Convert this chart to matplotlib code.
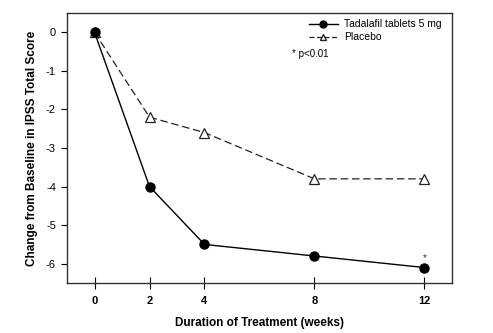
import matplotlib.pyplot as plt
from matplotlib.lines import Line2D

# Data
weeks = [0, 2, 4, 8, 12]
tadalafil = [0.0, -4.0, -5.5, -5.8, -6.1]
placebo = [0.0, -2.2, -2.6, -3.8, -3.8]
x_ticks = [0, 2, 4, 8, 12]
y_ticks = [0, -1, -2, -3, -4, -5, -6]

plt.rcParams["font.family"] = ["Liberation Sans", "DejaVu Sans"]

fig = plt.figure(figsize=(4.93, 3.33), dpi=100)
ax = fig.add_axes([67 / 493, 1 - 283 / 333, (452 - 67) / 493, (283 - 13) / 333])

ax.plot(weeks, placebo, color="#222222", linestyle=(0, (6, 3)), linewidth=0.9,
        marker="^", markersize=6.5, markerfacecolor="white",
        markeredgecolor="#222222", markeredgewidth=0.9, zorder=2)
ax.plot(weeks, tadalafil, color="black", linewidth=1.0,
        marker="o", markersize=6.5, markerfacecolor="black", zorder=3)

ax.text(weeks[-1], tadalafil[-1] + 0.12, "*", ha="center", va="bottom",
        fontsize=7, color="#333333")

ax.set_xlim(-1, 13)
ax.set_ylim(-6.5, 0.5)
ax.set_xticks(x_ticks)
ax.set_yticks(y_ticks)
ax.set_xticklabels([str(t) for t in x_ticks], fontweight="bold", fontsize=8)
ax.set_yticklabels([str(t) for t in y_ticks], fontsize=8)
ax.tick_params(axis="x", direction="inout", length=8, width=0.8, pad=5)
ax.tick_params(axis="y", direction="out", length=4, width=0.8, pad=4)
for side in ax.spines.values():
    side.set_linewidth(1.0)
    side.set_color("#333333")

ax.set_xlabel("Duration of Treatment (weeks)", fontweight="bold", fontsize=8.5, labelpad=8)
ax.set_ylabel("Change from Baseline in IPSS Total Score", fontweight="bold", fontsize=8.5,
              labelpad=6)

handles = [
    Line2D([], [], color="black", linewidth=1.0, marker="o", markersize=5,
           markerfacecolor="black"),
    Line2D([], [], color="#222222", linewidth=0.9, linestyle=(0, (4, 2)), marker="^",
           markersize=5, markerfacecolor="white", markeredgecolor="#222222"),
]
leg = ax.legend(handles, ["Tadalafil tablets 5 mg", "Placebo"], loc="upper right",
                bbox_to_anchor=(0.99, 1.0), frameon=False, fontsize=7.5,
                handlelength=2.8, handletextpad=0.6, labelspacing=0.3, borderpad=0.1)
ax.text(0.585, 0.865, "* p<0.01", transform=ax.transAxes, fontsize=7, ha="left", va="top")

fig.savefig("out.png", dpi=100)
